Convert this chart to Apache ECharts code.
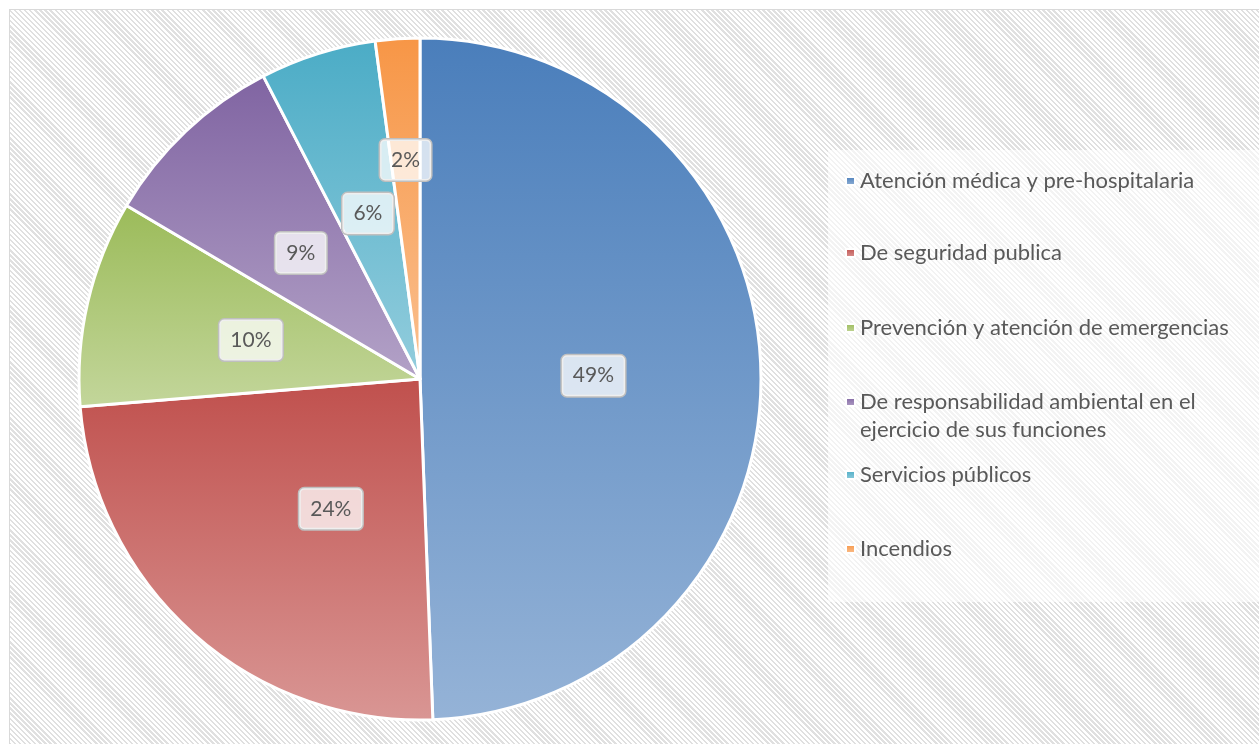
<!DOCTYPE html>
<html>
<head>
    <meta charset="utf-8">
    <title>Pie</title>
    <script src="https://cdn.jsdelivr.net/npm/echarts@6/dist/echarts.min.js"></script>
    <style>
        body { margin: 0; background: #fff; }
        #frame {
            position: absolute; left: 9px; top: 9px; width: 1260px; height: 740px;
            border: 1px solid #d9d9d9;
            background: repeating-linear-gradient(45deg, #e0e0e0 0px, #e0e0e0 1.7px, #ffffff 1.7px, #ffffff 3.6px);
        }
        #main { position: absolute; left: 0; top: 0; width: 1259px; height: 744px; }
    </style>
</head>
<body>
<div id="frame"></div>
<div id="main"></div>
<script type="text/javascript">

    // datos (porcentaje de cada tipo)
    var categories = [
        'Atención médica y pre-hospitalaria',
        'De seguridad publica',
        'Prevención y atención de emergencias',
        'De responsabilidad ambiental en el ejercicio de sus funciones',
        'Servicios públicos',
        'Incendios'
    ];
    var values = [49.4, 24.3, 9.8, 8.9, 5.5, 2.1];

    // colores degradados (arriba -> abajo)
    var topColors = ['#4a7ebb', '#c0504d', '#9bbb59', '#8064a2', '#4bacc6', '#f79646'];
    var bottomColors = ['#95b3d7', '#d99694', '#c3d69b', '#b3a2c7', '#93cddd', '#fac090'];

    var legendTops = [167, 239, 314, 360, 461, 535];

    var myChart = echarts.init(document.getElementById('main'));

    var pieData = categories.map(function (name, i) {
        return {
            name: name,
            value: values[i],
            itemStyle: {
                color: new echarts.graphic.LinearGradient(0, 0, 0, 1, [
                    {offset: 0, color: topColors[i]},
                    {offset: 1, color: bottomColors[i]}
                ])
            }
        };
    });

    var legends = categories.map(function (name, i) {
        return {
            data: [name],
            orient: 'vertical',
            left: 845,
            top: legendTops[i],
            padding: 0,
            icon: 'rect',
            itemWidth: 9,
            itemHeight: 8,
            selectedMode: false,
            formatter: function (n) {
                // el cuarto va en dos lineas, cuadrito alineado con la primera
                if (n === categories[3]) {
                    return '\nDe responsabilidad ambiental en el\nejercicio de sus funciones';
                }
                return n;
            },
            textStyle: {
                fontFamily: 'Lato',
                fontSize: 22,
                lineHeight: 28,
                color: '#595959'
            }
        };
    });

    myChart.setOption({
        animation: false,
        backgroundColor: 'transparent',
        graphic: [{
            type: 'rect',
            z: 0,
            shape: {x: 828, y: 150, width: 431, height: 452},
            style: {fill: 'rgba(255,255,255,0.6)'}
        }],
        legend: legends,
        series: [{
            type: 'pie',
            center: [420, 379],
            radius: 341,
            startAngle: 90,
            clockwise: true,
            percentPrecision: 0,
            itemStyle: {borderColor: '#fff', borderWidth: 3},
            label: {
                position: 'inside',
                formatter: function (p) { return p.percent + '%'; },
                fontFamily: 'Lato',
                fontSize: 21,
                color: '#595959',
                backgroundColor: 'rgba(255,255,255,0.75)',
                borderColor: '#bfbfbf',
                borderWidth: 1.5,
                borderRadius: 5,
                padding: [10, 11]
            },
            // pequeños ajustes como en el original
            labelLayout: function (p) {
                if (p.dataIndex === 1) return {dx: 26};
                if (p.dataIndex === 5) return {dy: -46, dx: -3};
            },
            labelLine: {show: false},
            emphasis: {disabled: true},
            data: pieData
        }]
    });
</script>
</body>
</html>
